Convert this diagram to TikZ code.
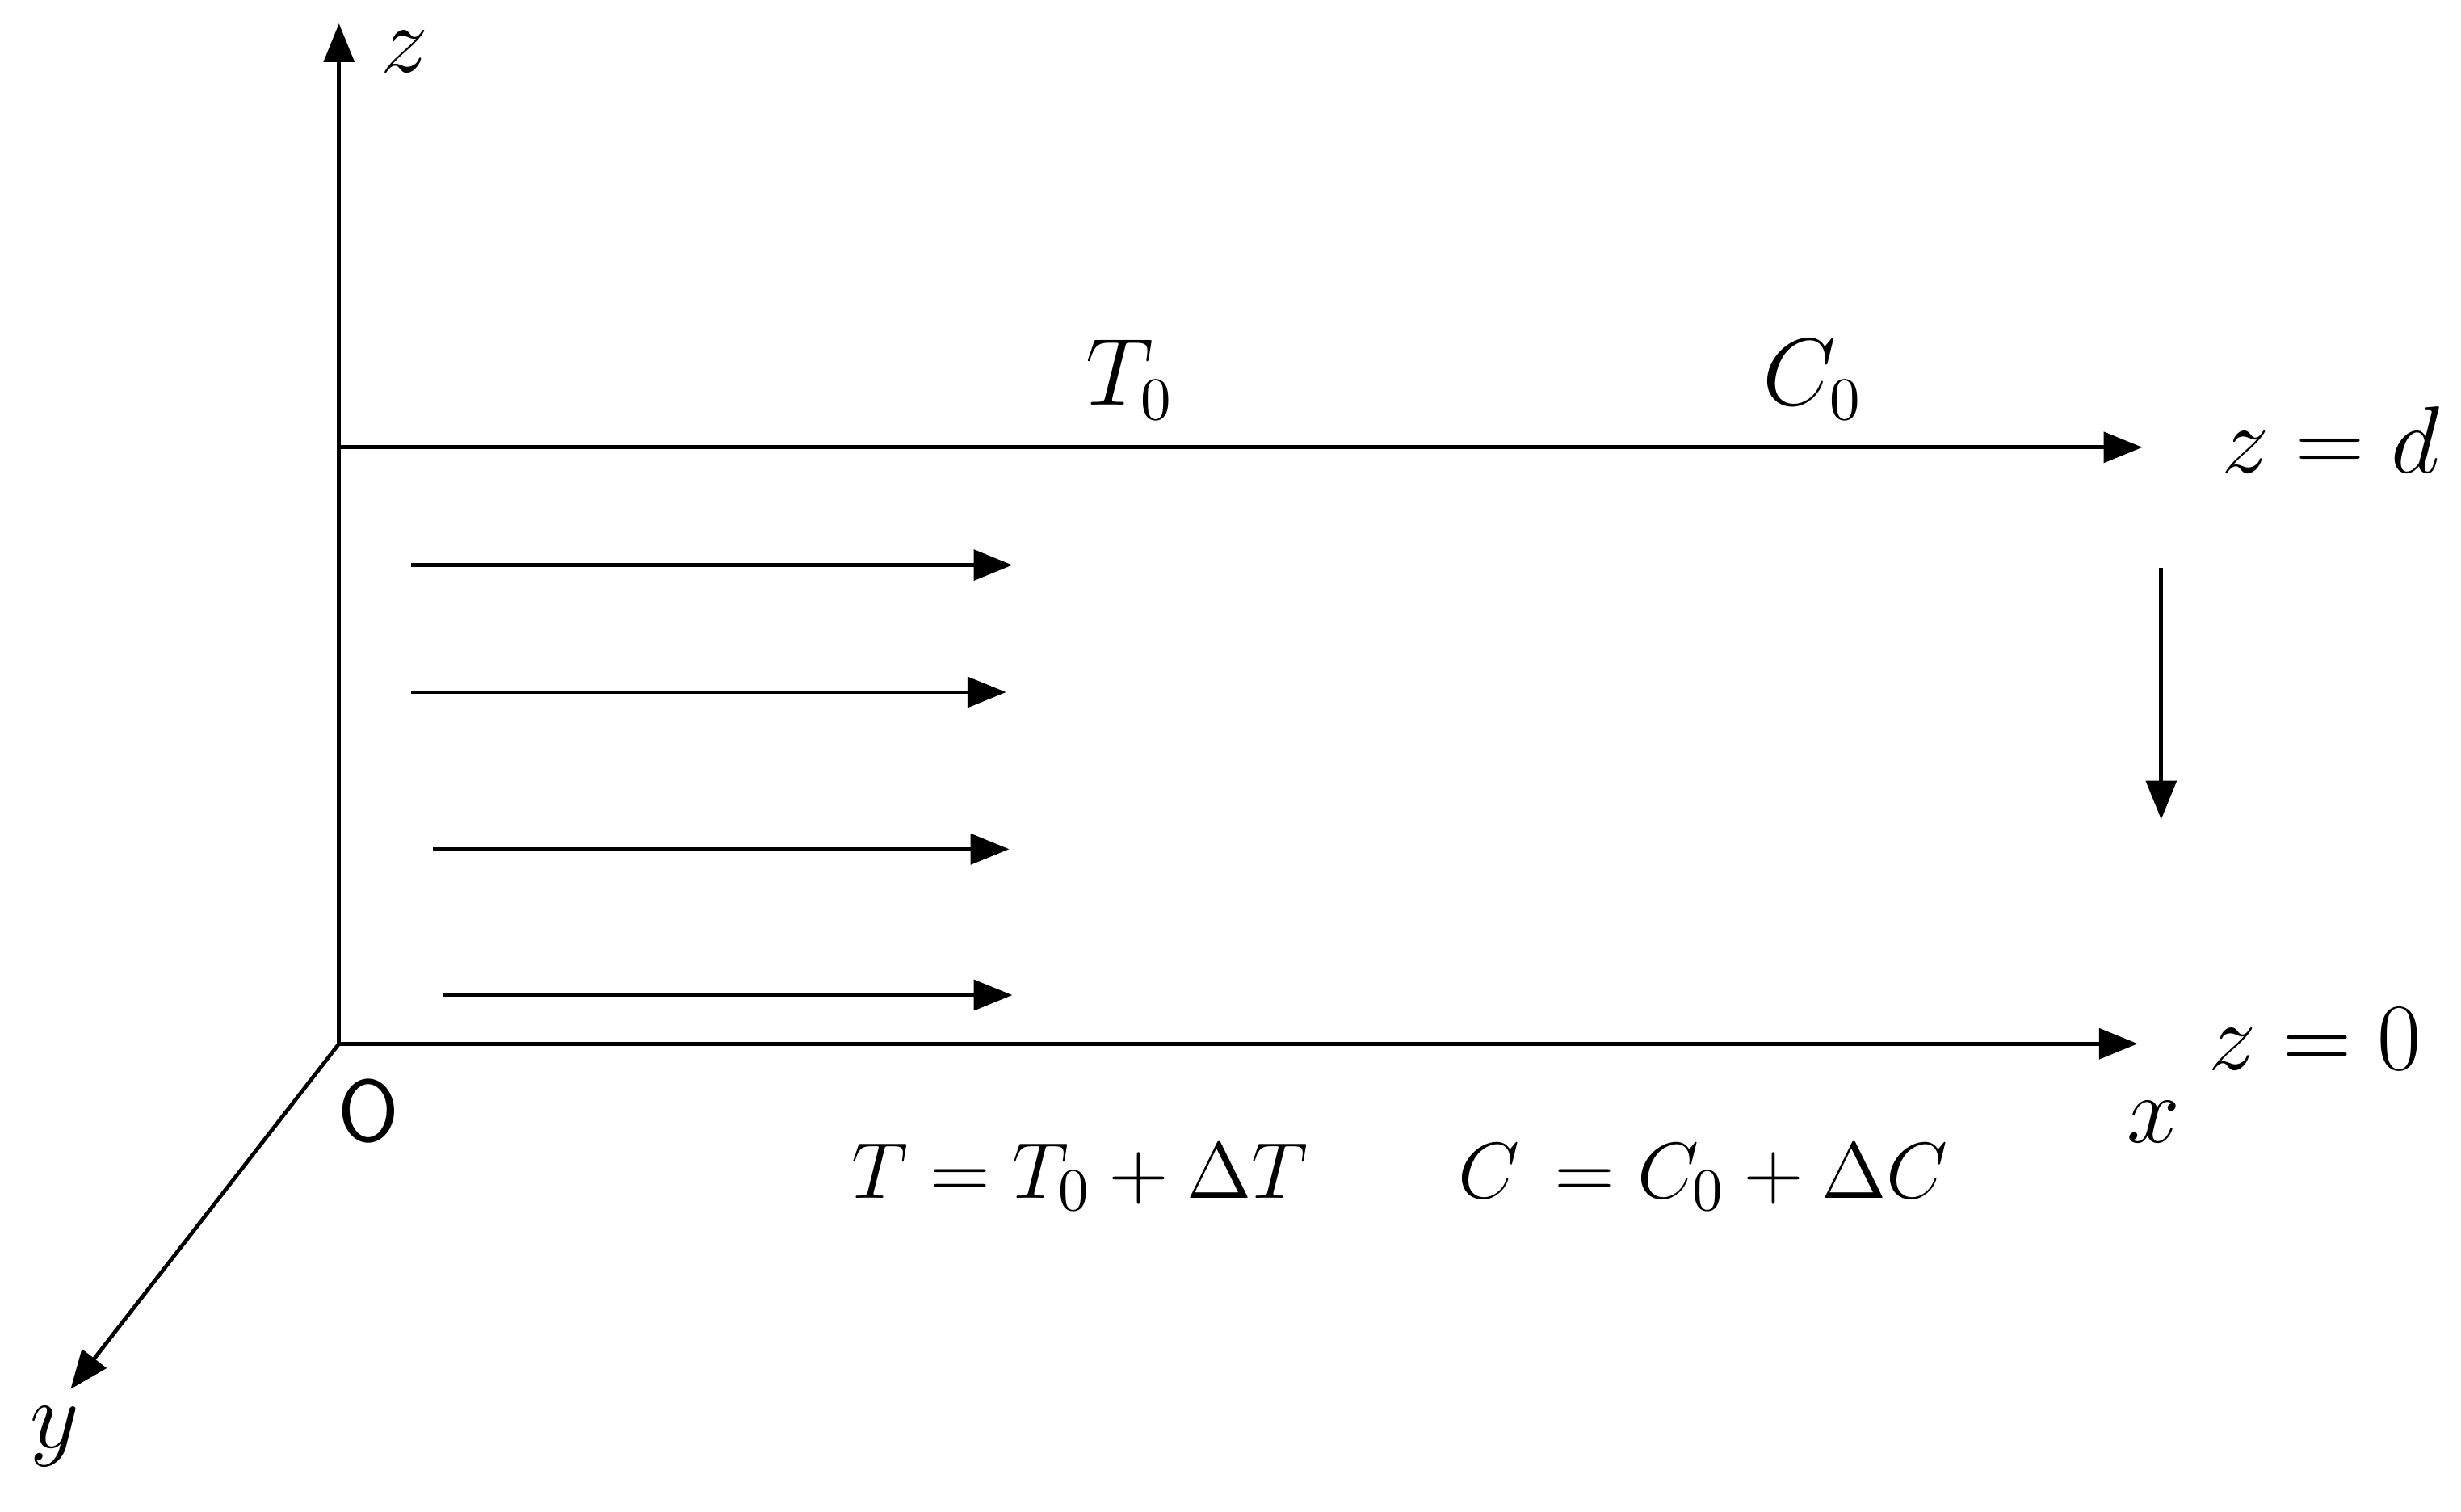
\documentclass[tikz,border=0pt]{standalone}
\usetikzlibrary{arrows.meta}
\begin{document}
\begin{tikzpicture}[x=0.01cm,y=-0.01cm,
  ln/.style={line width=0.7pt,-{Triangle[length=7pt,width=5.5pt]}},
  lbl/.style={font=\fontsize{16}{19}\selectfont,inner sep=0pt}]
\useasboundingbox (0,0) rectangle (1568,963);
\coordinate (O) at (216,665);
\coordinate (ztop) at (216,15);
\coordinate (yend) at (45,885);
\coordinate (tl) at (216,285);
\coordinate (tr) at (1365,285);
\coordinate (br) at (1362,665);
\draw[ln] (O) -- (ztop);
\draw[ln] (O) -- (yend);
\draw[line width=0.7pt] (O) -- (tl);
\draw[ln] (tl) -- (tr);
\draw[ln] (O) -- (br);
\foreach \n/\xa/\xb/\yy in {a/262/645/360,b/262/641/441,c/276/643/541,d/282/645/634}{
  \coordinate (s\n) at (\xa,\yy); \coordinate (e\n) at (\xb,\yy);
  \draw[ln] (s\n) -- (e\n);}
\coordinate (ds) at (1377,362); \coordinate (de) at (1377,522);
\draw[ln] (ds) -- (de);
\node[lbl] (zl) at (258,33) {$z$};
\node[lbl] (yl) at (35,915) {$y$};
\node[lbl] (xl) at (1372,715) {$x$};
\node[lbl,font=\fontsize{16}{19}\selectfont\sffamily] (Ol) at (235,708) {O};
\node[lbl] (T0) at (720,242) {$T_0$};
\node[lbl] (C0) at (1155,242) {$C_0$};
\node[lbl] (zd) at (1485,280) {$z = d$};
\node[lbl] (z0) at (1475,662) {$z = 0$};
\node[lbl,font=\fontsize{15}{18}\selectfont] (Teq) at (688,750) {$T=T_0+\Delta T$};
\node[lbl,font=\fontsize{15}{18}\selectfont] (Ceq) at (1085,750) {$C\,=C_0+\Delta C$};
\end{tikzpicture}
\end{document}
